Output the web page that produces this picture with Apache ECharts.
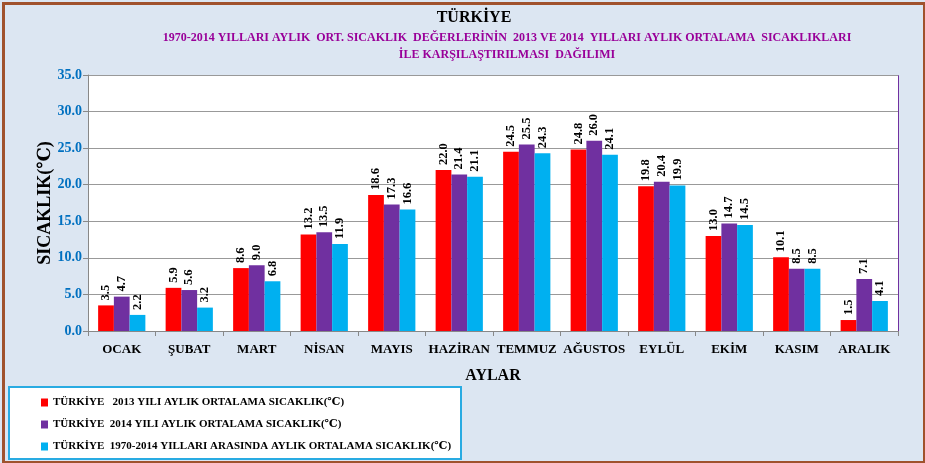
<!DOCTYPE html>
<html><head><meta charset="utf-8">
<script src="https://cdn.jsdelivr.net/npm/echarts@6/dist/echarts.min.js"></script>
<style>html,body{margin:0;padding:0;background:#fff}#c{width:925px;height:463px}</style>
</head><body><div id="c"></div>
<script>
const months = ['OCAK','ŞUBAT','MART','NİSAN','MAYIS','HAZİRAN','TEMMUZ','AĞUSTOS','EYLÜL','EKİM','KASIM','ARALIK'];
const y2013 = [3.5,5.9,8.6,13.2,18.6,22.0,24.5,24.8,19.8,13.0,10.1,1.5];
const y2014 = [4.7,5.6,9.0,13.5,17.3,21.4,25.5,26.0,20.4,14.7,8.5,7.1];
const avg7014 = [2.2,3.2,6.8,11.9,16.6,21.1,24.3,24.1,19.9,14.5,8.5,4.1];
const seriesNames = ['TÜRKİYE   2013 YILI AYLIK ORTALAMA SICAKLIK(℃)','TÜRKİYE  2014 YILI AYLIK ORTALAMA SICAKLIK(℃)','TÜRKİYE  1970-2014 YILLARI ARASINDA AYLIK ORTALAMA SICAKLIK(℃)'];
const colors = ['#FF0000','#7030A0','#00B0F0'];
const serif = '"Liberation Serif", "DejaVu Serif", serif';

const chart = echarts.init(document.getElementById('c'));
const mk = (i, data) => ({
  name: seriesNames[i], type: 'bar', data: data, barGap: '0%', barCategoryGap: '30%',
  itemStyle: {color: colors[i]},
  label: {show: true, position: 'top', rotate: 90, align: 'left', verticalAlign: 'middle', distance: 5,
    formatter: p => p.value.toFixed(1), color: '#000', fontFamily: serif, fontWeight: 'bold', fontSize: 12.5}
});
chart.setOption({
  backgroundColor: '#DCE6F2',
  animation: false,
  grid: {left: 88, right: 27, top: 75, bottom: 132},
  legend: {
    orient: 'vertical', left: 36, top: 392, itemGap: 11, itemWidth: 7, itemHeight: 8,
    icon: 'rect', textStyle: {fontFamily: serif, fontWeight: 'bold', fontSize: 11, color: '#000'},
    data: seriesNames
  },
  graphic: [
    {type: 'text', x: 474, y: 18, style: {text: 'TÜRKİYE', align: 'center', verticalAlign: 'middle', fill: '#000', font: 'bold 16px ' + serif}},
    {type: 'text', x: 507, y: 38, style: {text: '1970-2014 YILLARI AYLIK  ORT. SICAKLIK  DEĞERLERİNİN  2013 VE 2014  YILLARI AYLIK ORTALAMA  SICAKLIKLARI', align: 'center', verticalAlign: 'middle', fill: '#990099', font: 'bold 12px ' + serif}},
    {type: 'text', x: 507, y: 55, style: {text: 'İLE KARŞILAŞTIRILMASI  DAĞILIMI', align: 'center', verticalAlign: 'middle', fill: '#990099', font: 'bold 12px ' + serif}},
    {type: 'rect', left: 1, top: 1, shape: {width: 921, height: 459}, style: {fill: 'none', stroke: '#A0522D', lineWidth: 3}, z: 100},
    {type: 'rect', left: 8, top: 386, shape: {width: 452, height: 72}, style: {fill: '#fff', stroke: '#29ABE2', lineWidth: 2}, z: -1},
    {type: 'rect', left: 88, top: 75, shape: {width: 810, height: 256}, style: {fill: '#fff', stroke: '#7030A0', lineWidth: 1}, z: -1}
  ],
  xAxis: {
    type: 'category', data: months, name: 'AYLAR', nameLocation: 'middle', nameGap: 37,
    nameTextStyle: {fontFamily: serif, fontWeight: 'bold', fontSize: 16, color: '#000'},
    axisLine: {lineStyle: {color: '#888'}}, axisTick: {show: true, length: 5, lineStyle: {color: '#888'}},
    axisLabel: {fontFamily: serif, fontWeight: 'bold', fontSize: 13, color: '#000', margin: 12, interval: 0}
  },
  yAxis: {
    type: 'value', min: 0, max: 35, interval: 5, name: 'SICAKLIK(℃)', nameLocation: 'middle', nameGap: 34,
    nameMoveOverlap: false,
    nameTextStyle: {fontFamily: serif, fontWeight: 'bold', fontSize: 18, color: '#000'},
    axisLine: {show: true, lineStyle: {color: '#888'}}, axisTick: {show: true, length: 5, inside: false, lineStyle: {color: '#888'}},
    axisLabel: {formatter: v => v.toFixed(1), fontFamily: serif, fontWeight: 'bold', fontSize: 14, color: '#0070C0', margin: 6},
    splitLine: {lineStyle: {color: '#999', width: 1}}
  },
  series: [mk(0, y2013), mk(1, y2014), mk(2, avg7014)]
});
</script></body></html>
